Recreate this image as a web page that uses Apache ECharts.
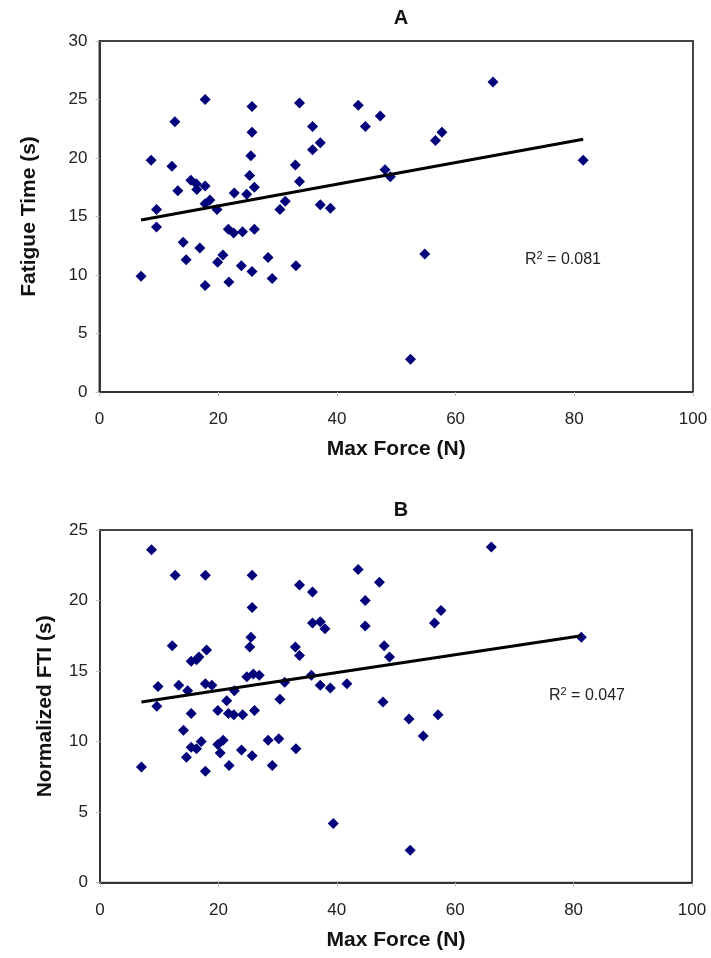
<!DOCTYPE html>
<html>
<head>
<meta charset="utf-8">
<script src="https://cdn.jsdelivr.net/npm/echarts@6/dist/echarts.min.js"></script>
<style>html,body{margin:0;padding:0;background:#fff;}#c{width:711px;height:958px;}</style>
</head>
<body>
<div id="c"></div>
<script>
// Panel A: Max Force (N) vs Fatigue Time (s)
const forceA = [8.7,12.7,17.8,25.7,33.7,43.6,47.3,35.9,44.8,25.7,37.2,35.9,25.5,12.2,33.0,48.1,49.0,25.3,33.7,15.4,16.3,17.8,16.4,13.2,26.1,22.7,24.8,18.6,17.8,31.3,30.4,37.2,38.9,9.6,19.8,9.6,21.7,22.6,24.1,26.1,14.1,16.9,14.6,20.8,19.9,23.9,25.7,28.4,33.1,7.0,17.8,21.8,29.1,54.8,52.4,66.3,56.6,57.7,81.5];
const fatigueA = [19.8,23.1,25.0,24.4,24.7,24.5,23.6,22.7,22.7,22.2,21.3,20.7,20.2,19.3,19.4,19.0,18.4,18.5,18.0,18.1,17.8,17.6,17.3,17.2,17.5,17.0,16.9,16.4,16.1,16.3,15.6,16.0,15.7,15.6,15.6,14.1,13.9,13.6,13.7,13.9,12.8,12.3,11.3,11.7,11.1,10.8,10.3,11.5,10.8,9.9,9.1,9.4,9.7,11.8,2.8,26.5,21.5,22.2,19.8];
// Panel B: Max Force (N) vs Normalized FTI (s)
const forceB = [8.7,12.7,17.8,25.7,33.7,43.6,47.2,35.9,44.8,25.7,35.9,37.2,38.0,44.8,25.5,25.3,12.2,33.0,33.7,18.0,15.4,16.3,16.7,48.0,48.9,24.8,25.9,26.9,35.7,31.2,41.7,37.2,38.9,9.8,13.3,17.8,18.9,14.8,22.7,30.4,21.4,47.8,9.6,15.4,19.9,21.7,22.6,24.1,26.1,14.1,15.4,16.3,17.1,14.6,19.9,20.8,20.3,23.9,25.7,28.4,30.2,33.1,7.0,17.8,21.8,29.1,39.4,52.2,57.1,54.6,52.4,66.1,57.6,56.5,81.3];
const ftiB = [23.6,21.8,21.8,21.8,21.1,22.2,21.3,20.6,20.0,19.5,18.4,18.5,18.0,18.2,17.4,16.7,16.8,16.7,16.1,16.5,15.7,15.8,16.0,16.8,16.0,14.6,14.8,14.7,14.7,14.2,14.1,14.0,13.8,13.9,14.0,14.1,14.0,13.6,13.6,13.0,12.9,12.8,12.5,12.0,12.2,12.0,11.9,11.9,12.2,10.8,9.6,9.5,10.0,8.9,9.8,10.1,9.2,9.4,9.0,10.1,10.2,9.5,8.2,7.9,8.3,8.3,4.2,11.6,11.9,10.4,2.3,23.8,19.3,18.4,17.4];
// Linear trend lines: [intercept, slope]
const fitA = [14.06, 0.0925];
const fitB = [12.36, 0.0632];
const r2A = '0.081';
const r2B = '0.047';

function pairs(xs, ys) { return xs.map((x, i) => [x, ys[i]]); }
function trend(xs, fit) {
  const lo = Math.min(...xs), hi = Math.max(...xs);
  return [[lo, fit[0] + fit[1] * lo], [hi, fit[0] + fit[1] * hi]];
}

const FONT = '"Liberation Sans", Arial, sans-serif';
const chart = echarts.init(document.getElementById('c'), null, {renderer: 'canvas'});

function xAx(gi) {
  return {
    gridIndex: gi, type: 'value', min: 0, max: 100, interval: 20,
    name: 'Max Force (N)', nameLocation: 'middle', nameGap: 47,
    nameTextStyle: {fontFamily: FONT, fontSize: 21, fontWeight: 'bold', color: '#111'},
    axisLine: {show: true, onZero: false, lineStyle: {color: '#333', width: 2}},
    axisTick: {show: true, length: 4, lineStyle: {color: '#bbb'}},
    axisLabel: {fontFamily: FONT, fontSize: 17, color: '#222', margin: 19},
    splitLine: {show: false}
  };
}
function yAx(gi, name, max, gap) {
  return {
    gridIndex: gi, type: 'value', min: 0, max: max, interval: 5,
    name: name, nameLocation: 'middle', nameGap: gap,
    nameTextStyle: {fontFamily: FONT, fontSize: 21, fontWeight: 'bold', color: '#111'},
    axisLine: {show: true, onZero: false, lineStyle: {color: '#333', width: 2}},
    axisTick: {show: true, length: 4, lineStyle: {color: '#bbb'}},
    axisLabel: {fontFamily: FONT, fontSize: 17, color: '#222', margin: 12},
    splitLine: {show: false}
  };
}

const scatterStyle = {color: '#00007a', opacity: 1};

chart.setOption({
  animation: false,
  backgroundColor: '#fff',
  title: [
    {text: 'A', left: 396, top: 3, textAlign: 'center', textStyle: {fontFamily: FONT, fontSize: 20, fontWeight: 'bold', color: '#111'}},
    {text: 'B', left: 396, top: 495, textAlign: 'center', textStyle: {fontFamily: FONT, fontSize: 20, fontWeight: 'bold', color: '#111'}}
  ],
  grid: [
    {left: 99.5, top: 41, right: 18, height: 351, show: true, borderColor: '#444', borderWidth: 2, backgroundColor: '#fff'},
    {left: 100, top: 530, right: 19, height: 352.7, show: true, borderColor: '#444', borderWidth: 2, backgroundColor: '#fff'}
  ],
  xAxis: [xAx(0), xAx(1)],
  yAxis: [yAx(0, 'Fatigue Time (s)', 30, 60), yAx(1, 'Normalized FTI (s)', 25, 44)],
  graphic: [
    {type: 'text', left: 525, top: 250, style: {
      text: '{n|R}{s|2}{n| = ' + r2A + '}',
      rich: {n: {fontFamily: FONT, fontSize: 16, fill: '#222', verticalAlign: 'bottom'}, s: {fontFamily: FONT, fontSize: 11, fill: '#222', verticalAlign: 'top', padding: [0,0,7,0]}}
    }},
    {type: 'text', left: 549, top: 686, style: {
      text: '{n|R}{s|2}{n| = ' + r2B + '}',
      rich: {n: {fontFamily: FONT, fontSize: 16, fill: '#222', verticalAlign: 'bottom'}, s: {fontFamily: FONT, fontSize: 11, fill: '#222', verticalAlign: 'top', padding: [0,0,7,0]}}
    }}
  ],
  series: [
    {type: 'scatter', xAxisIndex: 0, yAxisIndex: 0, symbol: 'diamond', symbolSize: 11, itemStyle: scatterStyle, data: pairs(forceA, fatigueA), z: 3},
    {type: 'line', xAxisIndex: 0, yAxisIndex: 0, data: trend(forceA, fitA), showSymbol: false, symbol: 'none', lineStyle: {color: '#000', width: 3}, z: 4},
    {type: 'scatter', xAxisIndex: 1, yAxisIndex: 1, symbol: 'diamond', symbolSize: 11, itemStyle: scatterStyle, data: pairs(forceB, ftiB), z: 3},
    {type: 'line', xAxisIndex: 1, yAxisIndex: 1, data: trend(forceB, fitB), showSymbol: false, symbol: 'none', lineStyle: {color: '#000', width: 3}, z: 4}
  ]
});
</script>
</body>
</html>
